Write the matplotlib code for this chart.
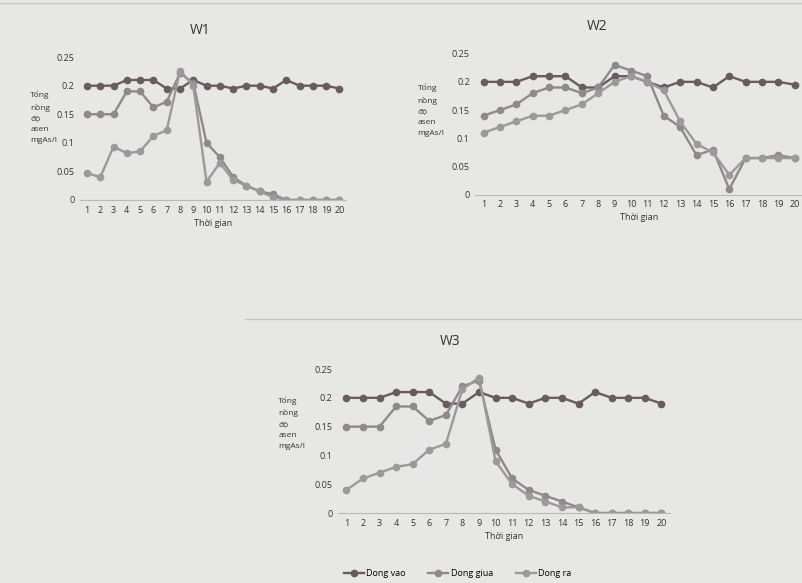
import numpy as np
import matplotlib.pyplot as plt

t = np.arange(1, 21)
ticks = [0, 0.05, 0.1, 0.15, 0.2, 0.25]
tick_labels = ['0', '0.05', '0.1', '0.15', '0.2', '0.25']
names = ['Dong vao', 'Dong giua', 'Dong ra']

w1_vao = [0.2, 0.2, 0.2, 0.21, 0.21, 0.21, 0.195, 0.195, 0.21, 0.2,
          0.2, 0.195, 0.2, 0.2, 0.195, 0.21, 0.2, 0.2, 0.2, 0.195]
w1_giua = [0.15, 0.15, 0.15, 0.19, 0.19, 0.162, 0.172, 0.222, 0.205, 0.1,
           0.075, 0.04, 0.025, 0.015, 0.01, 0, 0, 0, 0, 0]
w1_ra = [0.047, 0.04, 0.093, 0.082, 0.085, 0.112, 0.122, 0.226, 0.2, 0.032,
         0.065, 0.035, 0.025, 0.015, 0.005, 0, 0, 0, 0, 0]

w2_vao = [0.2, 0.2, 0.2, 0.21, 0.21, 0.21, 0.19, 0.19, 0.21, 0.21,
          0.2, 0.19, 0.2, 0.2, 0.19, 0.21, 0.2, 0.2, 0.2, 0.195]
w2_giua = [0.14, 0.15, 0.16, 0.18, 0.19, 0.19, 0.18, 0.19, 0.23, 0.22,
           0.21, 0.14, 0.12, 0.07, 0.08, 0.01, 0.065, 0.065, 0.07, 0.065]
w2_ra = [0.11, 0.12, 0.13, 0.14, 0.14, 0.15, 0.16, 0.18, 0.2, 0.21,
         0.2, 0.185, 0.13, 0.09, 0.075, 0.035, 0.065, 0.065, 0.065, 0.065]

w3_vao = [0.2, 0.2, 0.2, 0.21, 0.21, 0.21, 0.19, 0.19, 0.21, 0.2,
          0.2, 0.19, 0.2, 0.2, 0.19, 0.21, 0.2, 0.2, 0.2, 0.19]
w3_giua = [0.15, 0.15, 0.15, 0.185, 0.185, 0.16, 0.17, 0.22, 0.23, 0.11,
           0.06, 0.04, 0.03, 0.02, 0.01, 0, 0, 0, 0, 0]
w3_ra = [0.04, 0.06, 0.07, 0.08, 0.085, 0.11, 0.12, 0.215, 0.235, 0.09,
         0.05, 0.03, 0.02, 0.01, 0.01, 0, 0, 0, 0, 0]

colors = ['#6b5a5f', '#8e8a8c', '#9b999b']
plt.rcParams['font.family'] = ['Open Sans', 'DejaVu Sans']

fig = plt.figure(figsize=(8.03, 5.83), dpi=100)
fig.patch.set_facecolor('#e7e7e5')

# faint rules from the printed page
fig.add_artist(plt.Line2D([0.305, 1.0], [0.452, 0.452], color='#c4c4c4', lw=1, zorder=0))
fig.add_artist(plt.Line2D([0.0, 1.0], [0.995, 0.995], color='#c8c8c8', lw=1, zorder=0))


def draw(ax, title, series, title_x, lab_x, lab_y):
    ax.set_facecolor('none')
    for vals, c, n in zip(series, colors, names):
        ax.plot(t, vals, color=c, lw=1.7, marker='o', markersize=4.5,
                markerfacecolor=c, markeredgecolor=c, label=n)
    ax.set_ylim(0, 0.25)
    ax.set_xlim(0.5, 20.5)
    ax.set_yticks(ticks)
    ax.set_yticklabels(tick_labels)
    ax.set_xticks(t)
    ax.tick_params(length=0, labelsize=6.5, colors='#333333', pad=4)
    for s in ['top', 'right', 'left']:
        ax.spines[s].set_visible(False)
    ax.spines['bottom'].set_color('#b8b8b8')
    ax.spines['bottom'].set_linewidth(0.8)
    ax.set_title(title, fontsize=10, color='#333333', pad=17, x=title_x)
    ax.set_xlabel('Thời gian', fontsize=6.5, color='#333333', labelpad=3)
    ax.text(lab_x, lab_y, 'Tổng\nnồng\nđộ\nasen\nmgAs/l', transform=ax.transAxes,
            fontsize=6, color='#333333', ha='left', va='center', linespacing=1.75)


ax1 = fig.add_axes([0.100, 0.657, 0.331, 0.245])
draw(ax1, 'W1', [w1_vao, w1_giua, w1_ra], 0.45, -0.188, 0.58)

ax2 = fig.add_axes([0.592, 0.666, 0.408, 0.242])
draw(ax2, 'W2', [w2_vao, w2_giua, w2_ra], 0.372, -0.177, 0.60)

ax3 = fig.add_axes([0.421, 0.120, 0.413, 0.247])
draw(ax3, 'W3', [w3_vao, w3_giua, w3_ra], 0.337, -0.18, 0.625)

fig.legend(*ax3.get_legend_handles_labels(), loc='center', bbox_to_anchor=(0.57, 0.016),
           ncol=3, frameon=False, fontsize=6.5, handlelength=2.2, columnspacing=2.5,
           handletextpad=0.3)

fig.savefig('out.png', dpi=100, facecolor=fig.get_facecolor())
